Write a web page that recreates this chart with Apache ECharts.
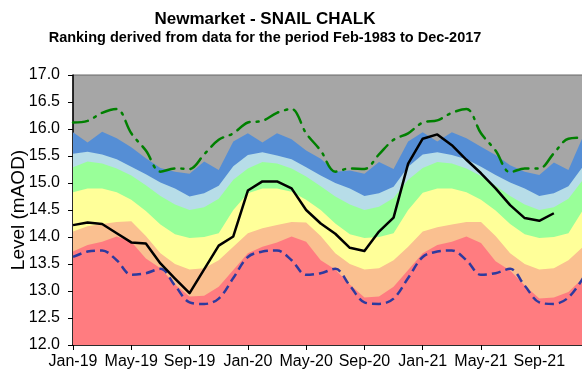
<!DOCTYPE html>
<html>
<head>
<meta charset="utf-8">
<script src="https://cdn.jsdelivr.net/npm/echarts@6/dist/echarts.min.js"></script>
<style>
  html, body { margin: 0; padding: 0; background: #ffffff; }
  #chart { width: 582px; height: 373px; }
</style>
</head>
<body>
<div id="chart"></div>
<script>
// Month labels, Jan-19 .. Dec-21
const monthNames = ['Jan', 'Feb', 'Mar', 'Apr', 'May', 'Jun', 'Jul', 'Aug', 'Sep', 'Oct', 'Nov', 'Dec'];
const years = ['19', '20', '21'];
const categories = years.flatMap(y => monthNames.map(m => m + '-' + y));

// Upper edge of each ranking band (mAOD), one value per month
const bandBlueTop = [
  15.94, 15.75, 15.95, 15.83, 15.66, 15.46, 15.28, 15.21, 15.17, 15.40, 15.24, 15.77,
  15.92, 15.75, 15.92, 15.81, 15.60, 15.45, 15.21, 15.23, 15.17, 15.39, 15.26, 15.77,
  15.94, 15.77, 15.94, 15.83, 15.67, 15.52, 15.33, 15.21, 15.15, 15.38, 15.24, 15.86
];
const bandLightBlueTop = [
  15.54, 15.58, 15.53, 15.44, 15.30, 15.16, 15.01, 14.90, 14.75, 14.81, 14.95, 15.31,
  15.52, 15.57, 15.51, 15.44, 15.29, 15.14, 15.00, 14.90, 14.76, 14.81, 14.93, 15.30,
  15.53, 15.57, 15.52, 15.44, 15.30, 15.15, 15.01, 14.90, 14.76, 14.81, 14.94, 15.31
];
const bandGreenTop = [
  15.29, 15.40, 15.36, 15.27, 15.14, 14.96, 14.76, 14.60, 14.50, 14.55, 14.71, 15.06,
  15.27, 15.39, 15.36, 15.27, 15.12, 14.94, 14.75, 14.60, 14.50, 14.56, 14.72, 15.06,
  15.28, 15.39, 15.36, 15.27, 15.13, 14.95, 14.76, 14.60, 14.50, 14.55, 14.71, 15.06
];
const bandYellowTop = [
  14.83, 14.90, 14.90, 14.83, 14.69, 14.48, 14.23, 14.05, 13.98, 14.00, 14.07, 14.50,
  14.81, 14.90, 14.90, 14.84, 14.69, 14.50, 14.25, 14.05, 13.98, 14.00, 14.07, 14.50,
  14.82, 14.90, 14.90, 14.83, 14.69, 14.49, 14.24, 14.05, 13.98, 14.00, 14.07, 14.50
];
const bandSalmonTop = [
  14.10, 14.20, 14.24, 14.28, 14.29, 14.02, 13.70, 13.50, 13.40, 13.42, 13.57, 13.82,
  14.07, 14.16, 14.22, 14.28, 14.27, 14.02, 13.70, 13.50, 13.40, 13.42, 13.57, 13.82,
  14.10, 14.18, 14.23, 14.28, 14.28, 14.02, 13.70, 13.50, 13.40, 13.42, 13.57, 13.82
];
const bandRedTop = [
  13.73, 13.85, 13.91, 14.01, 13.91, 13.60, 13.42, 13.12, 12.90, 12.91, 13.08, 13.39,
  13.70, 13.82, 13.90, 14.01, 13.91, 13.57, 13.40, 13.12, 12.88, 12.90, 13.08, 13.39,
  13.70, 13.85, 13.91, 14.01, 13.89, 13.55, 13.38, 13.10, 12.86, 12.88, 12.98, 13.24
];

// Historic monthly maximum and minimum (mAOD)
const levelMax = [
  16.12, 16.15, 16.30, 16.37, 15.92, 15.60, 15.21, 15.27, 15.26, 15.53, 15.80, 15.92,
  16.12, 16.15, 16.30, 16.37, 15.92, 15.60, 15.21, 15.27, 15.26, 15.53, 15.80, 15.92,
  16.12, 16.16, 16.30, 16.37, 15.92, 15.60, 15.20, 15.27, 15.27, 15.55, 15.82, 15.84
];
const levelMin = [
  13.63, 13.73, 13.75, 13.57, 13.30, 13.33, 13.41, 13.10, 12.79, 12.76, 12.86, 13.24,
  13.63, 13.73, 13.75, 13.57, 13.30, 13.33, 13.41, 13.10, 12.79, 12.76, 12.86, 13.24,
  13.63, 13.73, 13.75, 13.57, 13.30, 13.33, 13.41, 13.10, 12.79, 12.76, 12.88, 13.24
];

// Observed level (mAOD), Jan-19 .. Oct-21
const levelObserved = [
  14.22, 14.27, 14.24, 14.07, 13.90, 13.88, 13.51, 13.23, 12.96, 13.40, 13.84, 14.01,
  14.86, 15.03, 15.03, 14.90, 14.50, 14.25, 14.06, 13.80, 13.74, 14.10, 14.36, 15.36,
  15.82, 15.90, 15.70, 15.43, 15.18, 14.90, 14.59, 14.35, 14.30, 14.44, null, null
];

// Y axis ticks
const yMin = 12.0, yMax = 17.0, yStep = 0.5;

const FONT = '"Liberation Sans", Arial, Helvetica, sans-serif';

function band(data, color, z) {
  return {
    type: 'line',
    data: data,
    symbol: 'none',
    smooth: false,
    z: z,
    lineStyle: { width: 0, color: color },
    areaStyle: { color: color, opacity: 1, origin: 'start' },
    silent: true
  };
}

const chart = echarts.init(document.getElementById('chart'), null, { renderer: 'canvas' });

chart.setOption({
  animation: false,
  backgroundColor: '#ffffff',
  title: {
    text: 'Newmarket - SNAIL CHALK',
    subtext: 'Ranking derived from data for the period Feb-1983 to Dec-2017',
    left: 260,
    top: 6,
    textAlign: 'center',
    itemGap: 2,
    textStyle: { fontFamily: FONT, fontSize: 17, fontWeight: 'bold', color: '#000' },
    subtextStyle: { fontFamily: FONT, fontSize: 14.5, fontWeight: 'bold', color: '#000' }
  },
  grid: {
    left: 73, top: 75, right: -1, bottom: 28,
    containLabel: false,
    outerBoundsMode: 'none',
    show: true,
    backgroundColor: '#a6a6a6',
    borderColor: '#666666',
    borderWidth: 1
  },
  xAxis: {
    type: 'category',
    data: categories,
    boundaryGap: false,
    axisLine: { lineStyle: { color: '#000', width: 1.5 } },
    axisTick: { show: true, interval: 3, length: 5, lineStyle: { color: '#000' } },
    axisLabel: { interval: 3, margin: 9, fontFamily: FONT, fontSize: 16, color: '#000' },
    splitLine: { show: false }
  },
  yAxis: {
    type: 'value',
    min: yMin, max: yMax, interval: yStep,
    name: 'Level (mAOD)',
    nameLocation: 'middle',
    nameGap: 45,
    nameMoveOverlap: false,
    nameTextStyle: { fontFamily: FONT, fontSize: 19, color: '#000' },
    axisLine: { show: true, lineStyle: { color: '#000', width: 1.5 } },
    axisTick: { show: true, length: 5, lineStyle: { color: '#000' } },
    axisLabel: { margin: 13, fontFamily: FONT, fontSize: 16, color: '#000',
                 formatter: v => v.toFixed(1) },
    splitLine: { show: false }
  },
  series: [
    band(bandBlueTop, '#558ed5', 1),
    band(bandLightBlueTop, '#b7dde8', 2),
    band(bandGreenTop, '#99ff99', 3),
    band(bandYellowTop, '#ffff99', 4),
    band(bandSalmonTop, '#fac090', 5),
    band(bandRedTop, '#ff7c80', 6),
    {
      type: 'line', data: levelMax, symbol: 'none', smooth: 0.35, z: 10,
      lineStyle: { color: '#008000', width: 2.5, type: [15, 7, 2, 7], cap: 'round' }
    },
    {
      type: 'line', data: levelMin, symbol: 'none', smooth: 0.35, z: 10,
      lineStyle: { color: '#2e3a9e', width: 2.5, type: [9, 5] }
    },
    {
      type: 'line', data: levelObserved, symbol: 'none', smooth: false, z: 11,
      connectNulls: false,
      lineStyle: { color: '#000000', width: 2.5, join: 'round' }
    }
  ]
});
</script>
</body>
</html>
